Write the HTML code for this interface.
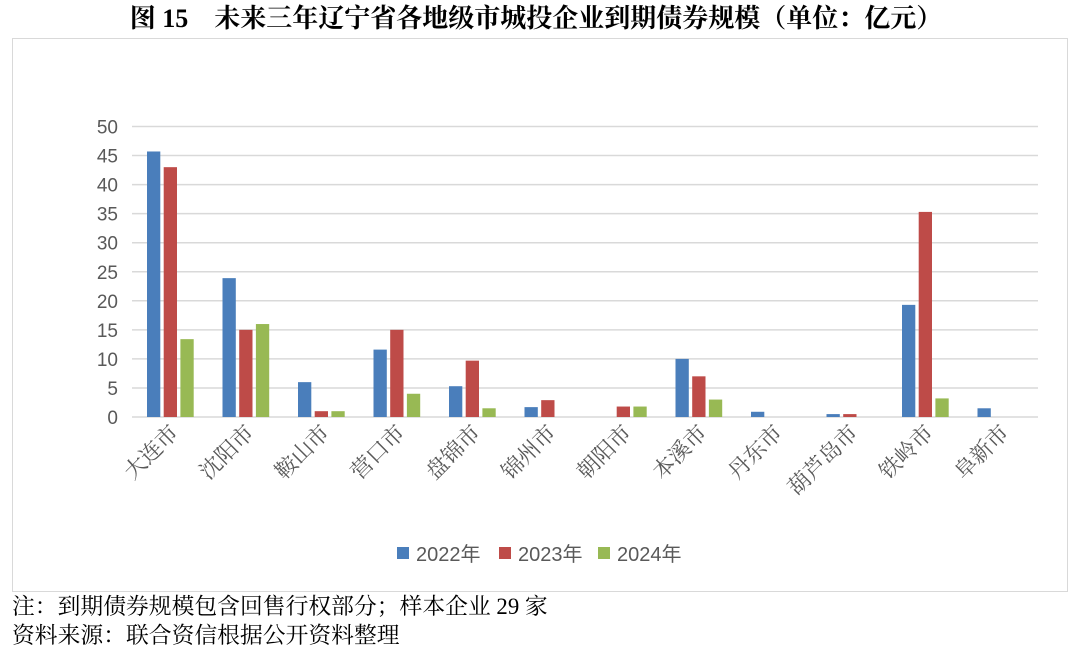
<!DOCTYPE html>
<html><head><meta charset="utf-8"><style>
body{margin:0;background:#fff;width:1080px;height:655px;overflow:hidden;font-family:"Liberation Serif","Noto Serif CJK SC",serif}
</style></head><body>
<svg width="1080" height="655" xmlns="http://www.w3.org/2000/svg">
<text x="536" y="27" text-anchor="middle" font-size="26" font-weight="bold" font-family="Liberation Serif,Noto Serif CJK SC,serif" fill="#000">图 15　未来三年辽宁省各地级市城投企业到期债券规模（单位：亿元）</text>
<rect x="12.5" y="38.5" width="1055" height="553" fill="none" stroke="#d9d9d9" stroke-width="1"/>
<g id="grid" stroke="#d9d9d9" stroke-width="1.5"></g>
<g id="ylab" font-family="Liberation Sans,sans-serif" font-size="19" fill="#595959" text-anchor="end"></g>
<g id="bars"></g>
<g id="xlab" font-family="Liberation Serif,Noto Serif CJK SC,serif" font-size="22" fill="#595959"></g>
<g font-family="Liberation Sans,Noto Sans CJK SC,sans-serif" font-size="20" fill="#595959">
<rect x="397" y="547" width="12" height="12" fill="#4a7ebb"/><text x="416" y="561">2022年</text>
<rect x="499" y="547" width="12" height="12" fill="#be4b48"/><text x="518" y="561">2023年</text>
<rect x="598" y="547" width="12" height="12" fill="#98b954"/><text x="617" y="561">2024年</text>
</g>
<text x="12" y="614" font-size="22.8" font-family="Liberation Serif,Noto Serif CJK SC,serif">注：到期债券规模包含回售行权部分；样本企业 29 家</text>
<text x="12" y="643" font-size="22.8" font-family="Liberation Serif,Noto Serif CJK SC,serif">资料来源：联合资信根据公开资料整理</text>
</svg>
<script>
const ns="http://www.w3.org/2000/svg";
function el(p,t,a,txt){const e=document.createElementNS(ns,t);for(const k in a)e.setAttribute(k,a[k]);if(txt!==undefined)e.textContent=txt;document.getElementById(p).appendChild(e);}
const y0=417,u=5.81,x0=132,cw=75.5;
for(let v=0;v<=50;v+=5){const y=y0-v*u;el("grid","line",{x1:x0,x2:1038,y1:y,y2:y});el("ylab","text",{x:118,y:y+7},v);}
const cats=["大连市","沈阳市","鞍山市","营口市","盘锦市","锦州市","朝阳市","本溪市","丹东市","葫芦岛市","铁岭市","阜新市"];
const d=[[45.7,43,13.4],[23.9,15,16],[6,1,1],[11.6,15,4],[5.3,9.7,1.5],[1.7,2.9,0],[0,1.8,1.8],[10,7,3],[0.9,0,0],[0.5,0.5,0],[19.3,35.3,3.2],[1.5,0,0]];
const col=["#4a7ebb","#be4b48","#98b954"];
cats.forEach((c,i)=>{const s=x0+i*cw;
 d[i].forEach((v,j)=>{if(v>0){const h=v*u;el("bars","rect",{x:s+15+j*16.7,y:y0-h,width:13.3,height:h,fill:col[j]});}});
 const cx=s+cw/2+10,cy=434;
 el("xlab","text",{x:cx,y:cy,"text-anchor":"end",transform:`rotate(-45 ${cx} ${cy})`},c);
});
</script>
</body></html>
